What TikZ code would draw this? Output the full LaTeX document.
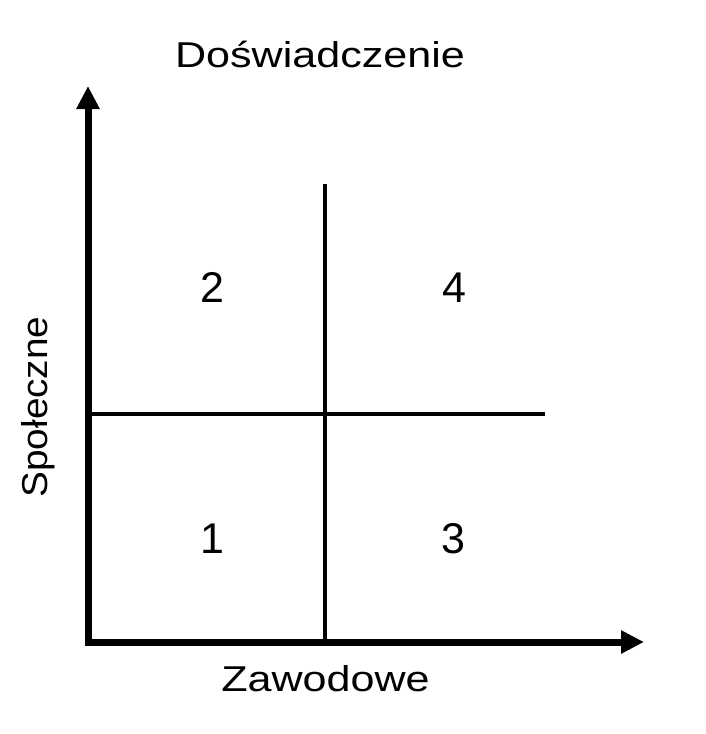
\documentclass[tikz,border=0pt]{standalone}
\usepackage{fontspec}
\setmainfont{Liberation Sans}
\usetikzlibrary{arrows.meta}
\begin{document}
\begin{tikzpicture}[x=1pt,y=-1pt,
  axis/.style={line width=7pt,line join=miter,{Triangle[length=23pt,width=22pt]}-{Triangle[length=23pt,width=22pt]}},
  divider/.style={line width=4.5pt},
  axislabel/.style={inner sep=0pt,anchor=base,font=\fontsize{35.9}{40}\selectfont},
  quad/.style={inner sep=0pt,anchor=base,font=\fontsize{43}{48}\selectfont}]
\useasboundingbox (0,0) rectangle (705,734);
\coordinate (ytip) at (88,86);
\coordinate (origin) at (88,642);
\coordinate (xtip) at (644,642);
\coordinate (vtop) at (325,184);
\coordinate (vbot) at (325,642);
\coordinate (hleft) at (88,414);
\coordinate (hright) at (545,414);
\draw[axis] (ytip) -- (origin) -- (xtip);
\draw[divider] (vtop) -- (vbot);
\draw[divider] (hleft) -- (hright);
\node[axislabel] (top) at (320,67.3) {\scalebox{1.2}[1]{Doświadczenie}};
\node[axislabel] (bottom) at (325.5,691.7) {\scalebox{1.2}[1]{Zawodowe}};
\node[axislabel,rotate=90] (left) at (47,407) {\scalebox{1.08}[1]{Społeczne}};
\node[quad] (q2) at (212.5,302) {2};
\node[quad] (q4) at (454,302) {4};
\node[quad] (q1) at (212.5,553) {1};
\node[quad] (q3) at (453,553) {3};
\end{tikzpicture}
\end{document}
